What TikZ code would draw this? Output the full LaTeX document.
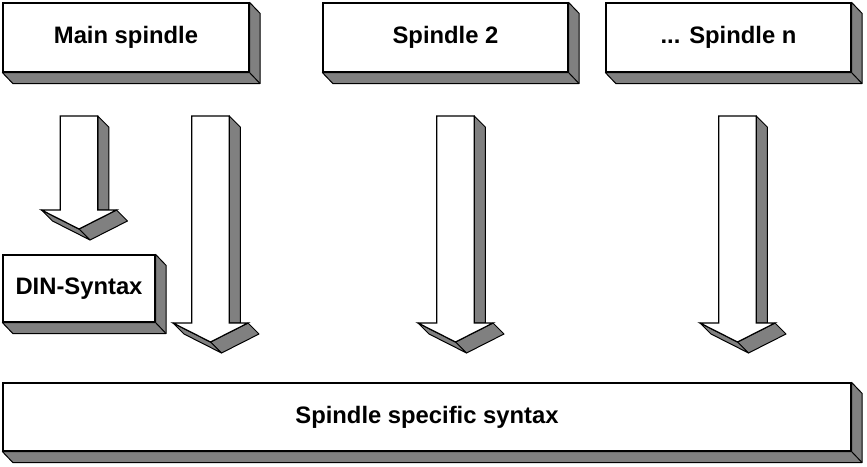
\documentclass[tikz,border=0pt]{standalone}
\usepackage{fontspec}
\setmainfont{Liberation Sans}
\definecolor{boxgray}{RGB}{128,128,128}
\tikzset{
  box/.style={draw=black, fill=white, line width=1.2pt, inner sep=0pt,
    font=\bfseries\fontsize{23.8}{28}\selectfont},
  side/.style={draw=black, fill=boxgray, line width=1pt, line join=round},
  front/.style={draw=black, fill=white, line width=1.2pt, line join=miter}
}
\newcommand\boxsides[1]{%
  \draw[side] (#1.north east) -- ++(10.5,11) -- ([shift={(10.5,11)}]#1.south east)
    -- ([shift={(10.5,11)}]#1.south west) -- (#1.south west) -- (#1.south east) -- cycle;
  \draw[side] (#1.south east) -- ++(10.5,11);
}
\newcommand\blockarrow[4]{%
  \coordinate (#1-top) at (#2,#3);
  \coordinate (#1-tip) at (#2,{#4+19});
  \draw[side] ({#2+18.75},#3) -- ++(11,11) -- ({#2+29.75},#4) -- ({#2+18.75},#4) -- cycle;
  \draw[side] ({#2+37.5},#4) -- ++(11,11) -- ({#2+11},{#4+30}) -- (#1-tip) -- cycle;
  \draw[side] ({#2-37.5},#4) -- ++(11,11) -- ({#2+11},{#4+30}) -- (#1-tip) -- cycle;
  \draw[front] ({#2-18.75},#3) -- ({#2+18.75},#3) -- ({#2+18.75},#4) -- ({#2+37.5},#4)
    -- (#1-tip) -- ({#2-37.5},#4) -- ({#2-18.75},#4) -- cycle;
}
\begin{document}
\begin{tikzpicture}[x=1pt,y=-1pt]
\useasboundingbox (0,0) rectangle (867,466);
% boxes
\node[box, minimum width=246pt, minimum height=69pt] (main) at (126,37.5) {Main spindle};
\node[box, minimum width=245pt, minimum height=69pt] (sp2) at (445.5,37.5) {Spindle 2};
\node[box, minimum width=245pt, minimum height=69pt] (spn) at (728.5,37.5) {... Spindle n};
\node[box, minimum width=152pt, minimum height=67pt] (din) at (79,288.5) {DIN-Syntax};
\node[box, minimum width=848pt, minimum height=68pt] (syn) at (427,417) {Spindle specific syntax};
\boxsides{main}
\boxsides{sp2}
\boxsides{spn}
\boxsides{din}
\boxsides{syn}
% block arrows
\blockarrow{a1}{79}{116}{210}
\blockarrow{a2}{210.5}{116}{323}
\blockarrow{a3}{455.5}{116}{323}
\blockarrow{a4}{737.5}{116}{323}
\end{tikzpicture}
\end{document}
